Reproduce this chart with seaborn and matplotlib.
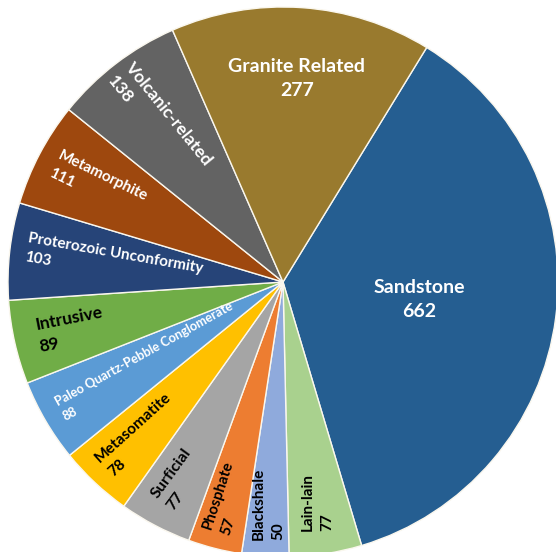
import numpy as np
import matplotlib
matplotlib.use("Agg")
import matplotlib.pyplot as plt
import seaborn as sns

# Deposit types and their counts, listed clockwise from the top
categories = ["Sandstone", "Lain-lain", "Blackshale", "Phosphate", "Surficial",
              "Metasomatite", "Paleo Quartz-Pebble Conglomerate", "Intrusive",
              "Proterozoic Unconformity", "Metamorphite", "Volcanic-related",
              "Granite Related"]
counts = [662, 77, 50, 57, 77, 78, 88, 89, 103, 111, 138, 277]

colors = ["#255E91", "#A9D18E", "#8FAADC", "#ED7D31", "#A5A5A5", "#FFC000",
          "#5B9BD5", "#70AD47", "#264478", "#9E480E", "#636363", "#997A2E"]

# Label styling: radial position, rotation, colour, size, alignment
label_radius = [0.50, 0.81, 0.81, 0.81, 0.81, 0.76, 0.57, 0.79, 0.62, 0.76, 0.74, 0.74]
label_rotation = [0, 90, 90, 72, 54, 42, 29, 11, -10, -26, -51, 0]
label_color = ["white", "black", "black", "black", "black", "black", "white",
               "black", "white", "white", "white", "white"]
label_size = [14, 11, 11, 10.8, 11.5, 11.2, 9.2, 12.5, 11, 11, 12.5, 14]
label_align = ["center", "left", "left", "left", "left", "left", "left", "left",
               "left", "left", "left", "center"]

sns.set_theme(style="white")
plt.rcParams["font.family"] = ["Lato", "DejaVu Sans"]

W, H = 556, 552
fig = plt.figure(figsize=(W / 100, H / 100), dpi=100)
cx, cy, R = 283, 282, 275
ax = fig.add_axes([(cx - R) / W, (H - cy - R) / H, 2 * R / W, 2 * R / H])

start = 58.5
wedges, _ = ax.pie(counts, colors=colors, startangle=start, counterclock=False,
                   radius=1.0, wedgeprops=dict(edgecolor="#FAF7EE", linewidth=1.0))

ax.set_xlim(-1, 1)
ax.set_ylim(-1, 1)
ax.set_aspect("equal")
ax.axis("off")

for w, name, val, r, rot, col, fs, al in zip(wedges, categories, counts, label_radius,
                                             label_rotation, label_color, label_size,
                                             label_align):
    mid = np.deg2rad((w.theta1 + w.theta2) / 2)
    x, y = r * np.cos(mid), r * np.sin(mid)
    ax.text(x, y, f"{name}\n{val}", ha="center", va="center", rotation=rot,
            rotation_mode="anchor", multialignment=al, color=col, fontsize=fs,
            fontweight="bold", linespacing=1.5)

fig.savefig("out.png", dpi=100, facecolor="white")
